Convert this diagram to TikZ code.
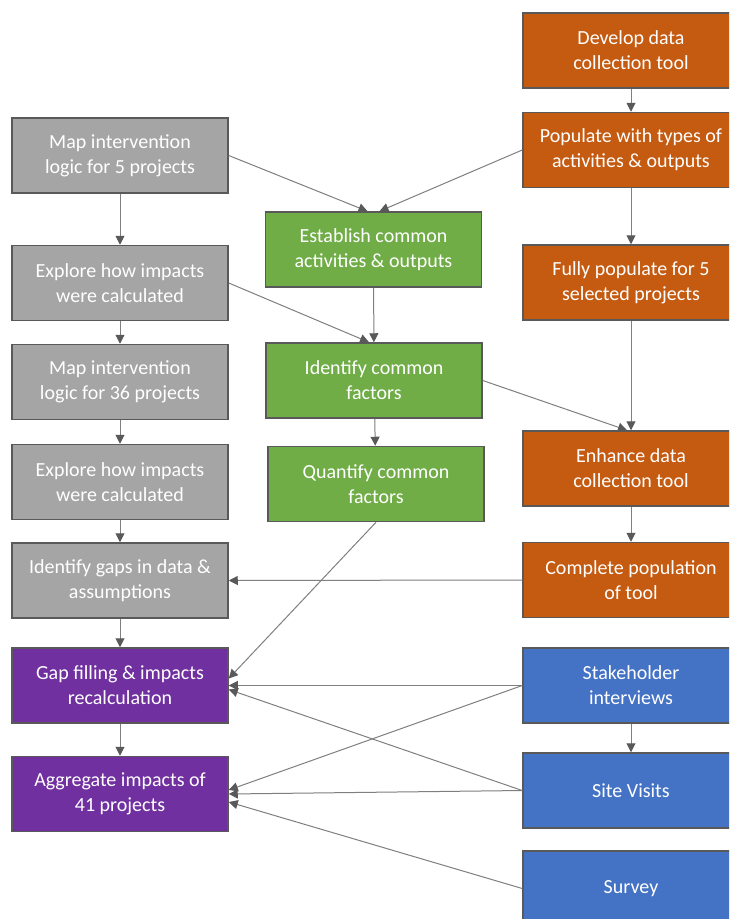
\documentclass[tikz,border=0pt]{standalone}
\usepackage{fontspec}
\setmainfont{Carlito}
\usepackage{tikz}
\usetikzlibrary{positioning,arrows.meta}
\usepackage{xcolor}

\definecolor{greybox}{HTML}{A5A5A5}
\definecolor{orangebox}{HTML}{C55A11}
\definecolor{greenbox}{HTML}{70AD47}
\definecolor{purplebox}{HTML}{7030A0}
\definecolor{bluebox}{HTML}{4472C4}
\definecolor{edgegrey}{HTML}{595959}
\definecolor{linegrey}{HTML}{7F7F7F}

\begin{document}
\begin{tikzpicture}[
    x=1pt, y=-1pt,
    task/.style={rectangle, draw=edgegrey, line width=1.5pt, text=white,
        minimum width=216pt, minimum height=75pt, inner sep=0pt,
        align=center, font=\fontsize{20}{25}\selectfont},
    greytask/.style={task, fill=greybox},
    orangetask/.style={task, fill=orangebox},
    greentask/.style={task, fill=greenbox},
    purpletask/.style={task, fill=purplebox},
    bluetask/.style={task, fill=bluebox},
    link/.style={draw=linegrey, line width=1pt,
        -{Triangle[length=9pt,width=9pt,color=edgegrey,fill=edgegrey]}}
]
\useasboundingbox (0,0) rectangle (729,919);
\clip (0,0) rectangle (729,919);
\fill[white] (0,0) rectangle (729,919);

% ----- Left column -----
\node[greytask] (G1) at (120,155.5) {Map intervention\\logic for 5 projects};
\node[greytask] (G2) at (120,283) {Explore how impacts\\were calculated};
\node[greytask] (G3) at (120,382) {Map intervention\\logic for 36 projects};
\node[greytask] (G4) at (120,482) {Explore how impacts\\were calculated};
\node[greytask] (G5) at (120,580.5) {Identify gaps in data \&\\assumptions};
\node[purpletask] (P1) at (120,685.5) {Gap filling \& impacts\\recalculation};
\node[purpletask] (P2) at (120,794) {Aggregate impacts of\\41 projects};

% ----- Middle column -----
\node[greentask] (E1) at (373.5,249.5) {Establish common\\activities \& outputs};
\node[greentask] (E2) at (374,380.5) {Identify common\\factors};
\node[greentask] (E3) at (376,484) {Quantify common\\factors};

% ----- Right column -----
\node[orangetask] (O1) at (631,50.5) {Develop data\\collection tool};
\node[orangetask] (O2) at (631,150) {Populate with types of\\activities \& outputs};
\node[orangetask] (O3) at (631,282.5) {Fully populate for 5\\selected projects};
\node[orangetask] (O4) at (631,468.5) {Enhance data\\collection tool};
\node[orangetask] (O5) at (631,580) {Complete population\\of tool};
\node[bluetask] (B1) at (631,685.5) {Stakeholder\\interviews};
\node[bluetask] (B2) at (631,790.5) {Site Visits};
\node[bluetask] (B3) at (631,888.5) {Survey};

% ----- Connections -----
\foreach \a/\b in {G1/G2, G2/G3, G3/G4, G4/G5, G5/P1, P1/P2,
                   E1/E2, E2/E3,
                   O1/O2, O2/O3, O3/O4, O4/O5, B1/B2}{
    \draw[link] (\a) -- (\b);
}

\draw[link] (G1.east) -- ([xshift=-6pt]E1.north);
\draw[link] (O2.west) -- ([xshift=6pt]E1.north);
\draw[link] (G2.east) -- ([xshift=-5pt]E2.north);
\draw[link] (E2.east) -- ([xshift=-4pt]O4.north);
\draw[link] (O5.west) -- (G5.east);
\draw[link] (E3.south) -- ([yshift=7pt]P1.east);

\draw[link] (B1.west) -- (P1.east);
\draw[link] (B1.west) -- ([yshift=4pt]P2.east);
\draw[link] (B2.west) -- ([yshift=-4pt]P1.east);
\draw[link] (B2.west) -- (P2.east);
\draw[link] (B3.west) -- ([yshift=-8pt]P2.east);

\end{tikzpicture}
\end{document}
